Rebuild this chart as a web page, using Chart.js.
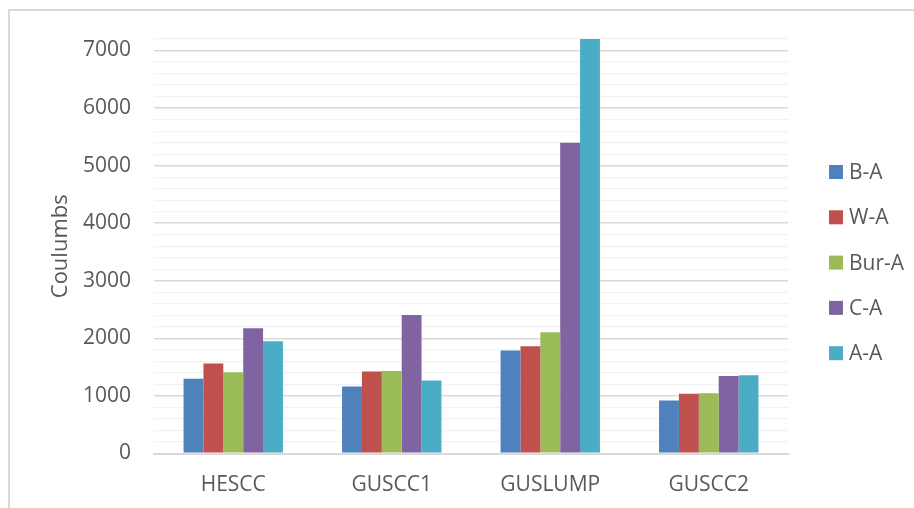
<!DOCTYPE html>
<html>
<head>
<meta charset="utf-8">
<script src="https://cdn.jsdelivr.net/npm/chart.js@4/dist/chart.umd.min.js"></script>
<style>
  html, body { margin: 0; padding: 0; background: #ffffff; }
  #wrap { width: 914px; height: 508px; position: relative; }
</style>
</head>
<body>
<div id="wrap"><canvas id="chart" width="914" height="508"></canvas></div>
<script>
// Charge per sample group, in coulombs
const categories = ['HESCC', 'GUSCC1', 'GUSLUMP', 'GUSCC2'];
const seriesNames = ['B-A', 'W-A', 'Bur-A', 'C-A', 'A-A'];
const bA   = [1300, 1165, 1790, 920];
const wA   = [1565, 1425, 1865, 1040];
const burA = [1410, 1435, 2105, 1045];
const cA   = [2175, 2405, 5400, 1345];
const aA   = [1950, 1270, 7200, 1360];
const yTickLabels = [0, 1000, 2000, 3000, 4000, 5000, 6000, 7000];

const seriesValues = [bA, wA, burA, cA, aA];
const seriesColors = ['#4f81bd', '#c0504d', '#9bbb59', '#8064a2', '#4bacc6'];

const FONT = "'Open Sans', 'Liberation Sans', sans-serif";
const TEXT = '#595959';

// Light frame around the whole chart
const framePlugin = {
  id: 'frame',
  beforeDraw(chart) {
    const ctx = chart.ctx;
    ctx.save();
    ctx.strokeStyle = '#d9d9d9';
    ctx.lineWidth = 2;
    ctx.strokeRect(9, 10, chart.width + 20, chart.height + 20);
    ctx.restore();
  }
};

// Vertical legend on the right
const sideLegend = {
  id: 'sideLegend',
  afterDraw(chart) {
    const ctx = chart.ctx;
    const x = 829, box = 14, top = 172, step = 45.3;
    ctx.save();
    ctx.font = '21px ' + FONT;
    ctx.textBaseline = 'middle';
    ctx.textAlign = 'left';
    chart.data.datasets.forEach((ds, i) => {
      const cy = top + i * step;
      ctx.fillStyle = ds.backgroundColor;
      ctx.fillRect(x, cy - box / 2, box, box);
      ctx.fillStyle = TEXT;
      ctx.fillText(ds.label, x + box + 6, cy + 1);
    });
    ctx.restore();
  }
};

new Chart(document.getElementById('chart'), {
  type: 'bar',
  data: {
    labels: categories,
    datasets: seriesNames.map((name, i) => ({
      label: name,
      data: seriesValues[i],
      backgroundColor: seriesColors[i],
      borderWidth: 0,
      categoryPercentage: 0.627,
      barPercentage: 1.0
    }))
  },
  options: {
    responsive: false,
    animation: false,
    devicePixelRatio: 1,
    layout: { padding: { left: 48, right: 126, top: 39, bottom: 0 } },
    plugins: {
      legend: { display: false },
      tooltip: { enabled: false }
    },
    scales: {
      x: {
        grid: { display: false, drawTicks: false },
        border: { display: true, color: '#d9d9d9', width: 2 },
        ticks: { color: TEXT, font: { family: FONT, size: 21 }, padding: 19 },
        afterFit(scale) { scale.height = 54.5; }
      },
      y: {
        min: 0,
        max: 7200,
        border: { display: false },
        grid: {
          drawTicks: false,
          color: (c) => (c.tick && yTickLabels.includes(c.tick.value)) ? '#d9d9d9' : '#f2f2f2',
          lineWidth: (c) => (c.tick && c.tick.value === 0) ? 2 : ((c.tick && yTickLabels.includes(c.tick.value)) ? 1.5 : 1.2)
        },
        ticks: {
          stepSize: 200,
          autoSkip: false,
          color: TEXT,
          font: { family: FONT, size: 21 },
          padding: 23,
          callback: (v) => yTickLabels.includes(v) ? String(v) : ''
        },
        title: {
          display: true,
          text: 'Coulumbs',
          color: TEXT,
          font: { family: FONT, size: 22 },
          padding: 0
        },
        afterFit(scale) { scale.width = 106; }
      }
    }
  },
  plugins: [framePlugin, sideLegend]
});
</script>
</body>
</html>
